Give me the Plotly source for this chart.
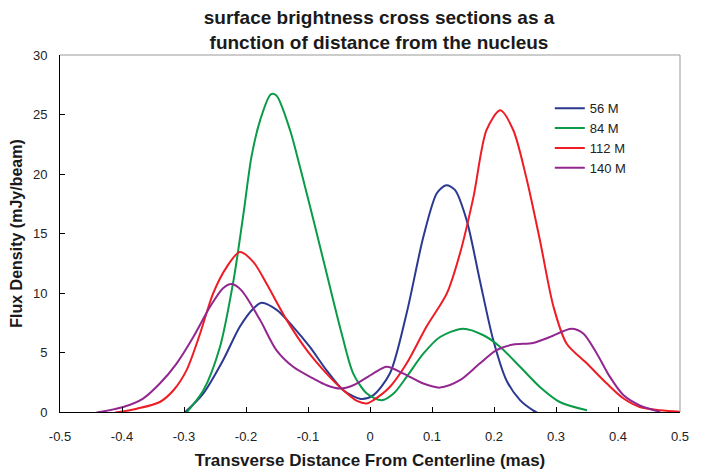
import plotly.graph_objects as go

x56 = [-0.300, -0.269, -0.237, -0.210, -0.188, -0.175, -0.150, -0.124, -0.097, -0.070, -0.043, -0.015,
       0.005, 0.032, 0.059, 0.086, 0.108, 0.123, 0.137, 0.156, 0.177, 0.199, 0.220, 0.242, 0.263, 0.281]
y56 = [-0.1, 1.55, 4.35, 7.16, 8.7, 9.18, 8.56, 7.16, 5.47, 3.5, 1.83, 1.1,
       1.4, 3.23, 8.28, 14.7, 18.4, 19.05, 18.66, 16.1, 11.1, 6.0, 2.67, 1.0, 0.14, -0.36]

x84 = [-0.300, -0.269, -0.242, -0.220, -0.204, -0.191, -0.177, -0.160, -0.151, -0.129, -0.113, -0.091,
       -0.070, -0.045, -0.027, -0.005, 0.019, 0.038, 0.059, 0.086, 0.113, 0.150, 0.183, 0.210,
       0.242, 0.274, 0.306, 0.350]
y84 = [-0.3, 1.8, 5.47, 11.1, 16.7, 21.5, 24.55, 26.7, 26.6, 23.7, 20.6, 16.1,
       11.65, 6.45, 3.23, 1.55, 0.98, 1.55, 2.95, 4.9, 6.3, 7.0, 6.45, 5.47,
       3.8, 2.1, 0.84, 0.14]

x112 = [-0.411, -0.376, -0.339, -0.317, -0.296, -0.274, -0.253, -0.231, -0.210, -0.188, -0.167, -0.134,
        -0.102, -0.070, -0.043, -0.021, -0.005, 0.005, 0.032, 0.059, 0.091, 0.124, 0.145, 0.167,
        0.188, 0.210, 0.231, 0.253, 0.274, 0.296, 0.317, 0.350, 0.382, 0.409, 0.435, 0.468, 0.511]
y112 = [-0.05, 0.28, 0.84, 1.83, 3.5, 6.6, 9.97, 12.2, 13.45, 12.6, 10.8, 7.7,
        5.2, 3.23, 1.83, 0.93, 0.72, 0.98, 2.1, 4.07, 7.16, 9.97, 13.3, 18.1,
        23.7, 25.35, 23.7, 19.5, 14.45, 8.84, 5.76, 4.07, 2.39, 1.13, 0.42, 0.14, 0.0]

x140 = [-0.441, -0.398, -0.366, -0.339, -0.312, -0.285, -0.258, -0.237, -0.223, -0.207, -0.177, -0.151,
        -0.124, -0.091, -0.070, -0.048, -0.027, 0.005, 0.027, 0.054, 0.086, 0.113, 0.145, 0.177,
        0.204, 0.231, 0.263, 0.290, 0.325, 0.344, 0.366, 0.387, 0.409, 0.435, 0.468]
y140 = [-0.05, 0.42, 1.13, 2.39, 4.07, 6.3, 8.84, 10.4, 10.75, 10.2, 7.7, 5.2,
        3.8, 2.8, 2.25, 1.97, 2.25, 3.23, 3.8, 3.23, 2.39, 2.05, 2.67, 4.07,
        5.2, 5.67, 5.8, 6.3, 7.0, 6.6, 4.9, 2.95, 1.4, 0.56, 0.0]

series_names = ["56 M", "84 M", "112 M", "140 M"]
colors = ["#2B3990", "#0A9B48", "#EE1C25", "#92278F"]

x_ticks = [-0.5, -0.4, -0.3, -0.2, -0.1, 0, 0.1, 0.2, 0.3, 0.4, 0.5]
x_tick_labels = ["-0.5", "-0.4", "-0.3", "-0.2", "-0.1", "0", "0.1", "0.2", "0.3", "0.4", "0.5"]
y_ticks = [0, 5, 10, 15, 20, 25, 30]

FONT = "Liberation Sans Narrow, Arial Narrow, Liberation Sans, Arial, sans-serif"
BOLD = "Liberation Sans, Arial, sans-serif"

fig = go.Figure()
for name, xs, ys, c in zip(series_names, [x56, x84, x112, x140], [y56, y84, y112, y140], colors):
    fig.add_trace(go.Scatter(x=xs, y=ys, mode="lines", name=name,
                             line=dict(color=c, width=2, shape="spline", smoothing=0.8)))

# page body has an 8px margin, so the figure is offset by (8, 8)
fig.update_layout(
    width=704, height=462,
    margin=dict(l=52, r=32, t=47, b=58, autoexpand=False),
    paper_bgcolor="white", plot_bgcolor="white",
    font=dict(family=FONT, size=13, color="#222222"),
    title=dict(text="<b>surface brightness cross sections as a<br>function of distance from the nucleus</b>",
               x=0.527, xanchor="center", y=0.965, yanchor="top", pad=dict(t=0, b=0),
               font=dict(family=BOLD, size=19, color="#1a1a1a")),
    showlegend=True,
    legend=dict(x=0.79, y=0.893, xanchor="left", yanchor="top", bgcolor="rgba(0,0,0,0)",
                font=dict(size=13, color="#222222"), tracegroupgap=0, itemwidth=30),
    xaxis=dict(range=[-0.5, 0.5], tickvals=x_ticks, ticktext=x_tick_labels, automargin=False,
               ticks="inside", ticklen=5, tickcolor="black", showline=True, linecolor="black",
               linewidth=1, showgrid=False, zeroline=False, ticklabelstandoff=12,
               title=dict(text="<b>Transverse Distance From Centerline (mas)</b>", standoff=12,
                          font=dict(family=BOLD, size=17, color="#1a1a1a"))),
    yaxis=dict(range=[0, 30], tickvals=y_ticks, automargin=False,
               ticks="inside", ticklen=5, tickcolor="black", showline=True, linecolor="black",
               linewidth=1, showgrid=False, zeroline=False, ticklabelstandoff=9,
               title=dict(text="<b>Flux Density (mJy/beam)</b>", standoff=8,
                          font=dict(family=BOLD, size=16, color="#1a1a1a"))),
)
fig.add_shape(type="line", xref="paper", yref="paper", x0=0, x1=1, y0=1, y1=1,
              line=dict(color="#999999", width=1))
fig.add_shape(type="line", xref="paper", yref="paper", x0=1, x1=1, y0=0, y1=1,
              line=dict(color="#999999", width=1))

fig.write_html("out.html")
